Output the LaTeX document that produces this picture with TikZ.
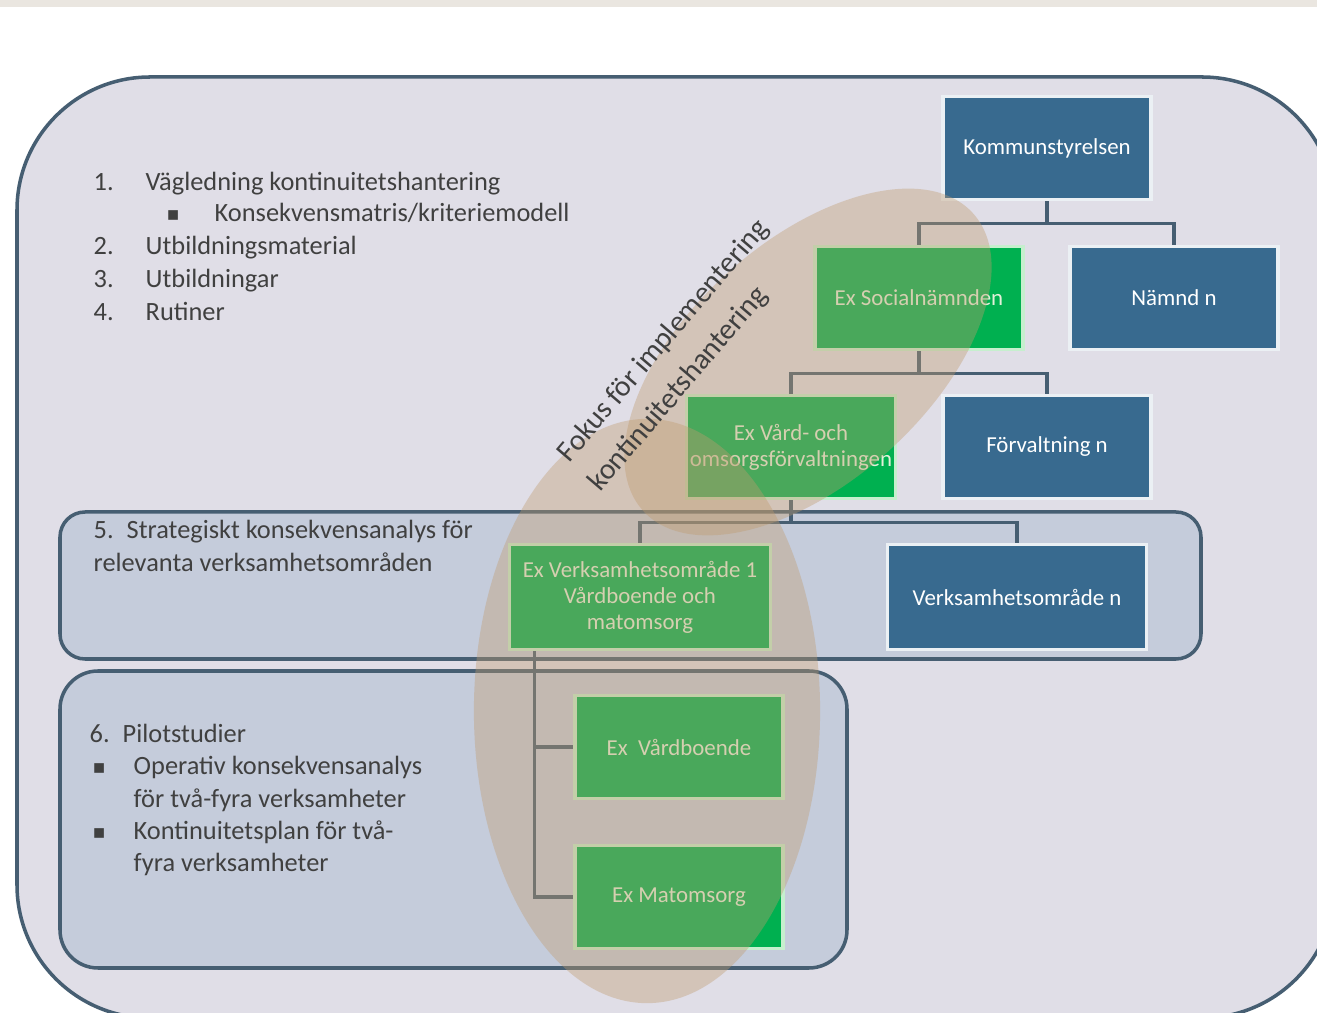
\documentclass[tikz,border=0pt]{standalone}
\usepackage{fontspec}
\setmainfont{Carlito}
\newfontfamily\symfont{DejaVu Sans}

\definecolor{bakgrund}{RGB}{224,222,231}
\definecolor{bandfarg}{RGB}{197,204,219}
\definecolor{kant}{RGB}{70,94,114}
\definecolor{blagrund}{RGB}{56,106,143}
\definecolor{gronbg}{RGB}{0,176,80}
\definecolor{gronkant}{RGB}{198,239,206}
\definecolor{grontext}{RGB}{226,240,217}
\definecolor{fokus}{RGB}{192,155,110}
\definecolor{remsa}{RGB}{234,230,224}
\definecolor{grafit}{RGB}{64,64,64}

\begin{document}
\begin{tikzpicture}[x=0.01cm, y=-0.01cm,
    ruta/.style={rectangle, minimum width=2.08cm, minimum height=1.03cm, inner sep=1pt, align=center, line width=1pt, font=\fontsize{6.5}{7.4}\selectfont},
    bla/.style={ruta, fill=blagrund, draw=white!90!blagrund, text=white},
    gron/.style={ruta, fill=gronbg, draw=gronkant, text=grontext},
    lista/.style={anchor=base west, inner sep=0pt, text=grafit, font=\fontsize{7.5}{9}\selectfont},
    punkt/.style={anchor=base west, inner sep=0pt, text=grafit, font=\symfont\fontsize{5.5}{6}\selectfont},
    fokusrad/.style={anchor=base west, rotate=49.5, inner sep=0pt, text=grafit, font=\fontsize{8.4}{10}\selectfont},
    linje/.style={draw=kant, line width=0.9pt},
    fokusyta/.style={fill=fokus, fill opacity=0.38}]

    \useasboundingbox (0,0) rectangle (1317,1013);
    \fill[white] (0,0) rectangle (1317,1013);
    \fill[remsa] (0,0) rectangle (1317,7);

    % Ram och band
    \begin{scope}
        \clip (0,0) rectangle (1317,1013);
        \draw[kant, fill=bakgrund, line width=1pt, rounded corners=1.33cm] (17,77) rectangle (1335,1018);
    \end{scope}
    \draw[kant, fill=bandfarg, line width=1pt, rounded corners=0.25cm] (60,512) rectangle (1201,659);
    \draw[kant, fill=bandfarg, line width=1pt, rounded corners=0.38cm] (60,671) rectangle (847,968);

    % Organisationen
    \node[bla] (ks) at (1047,148) {Kommunstyrelsen};
    \node[gron] (social) at (919,298) {Ex Socialnämnden};
    \node[bla] (namnd) at (1174,298) {Nämnd n};
    \node[gron] (vard) at (791,447) {Ex Vård- och\\omsorgsförvaltningen};
    \node[bla] (forv) at (1047,447) {Förvaltning n};
    \node[gron, minimum width=2.61cm, minimum height=1.05cm] (vo1) at (640,597) {Ex Verksamhetsområde 1\\Vårdboende och\\matomsorg};
    \node[bla, minimum width=2.59cm, minimum height=1.05cm] (von) at (1017,597) {Verksamhetsområde n};
    \node[gron] (vardb) at (679,747) {Ex~~Vårdboende};
    \node[gron] (matoms) at (679,897) {Ex Matomsorg};

    % Linjer
    \draw[linje] (ks.south) -- ++(0,22) -| (social.north);
    \draw[linje] (ks.south) -- ++(0,22) -| (namnd.north);
    \draw[linje] (social.south) -- ++(0,22) -| (vard.north);
    \draw[linje] (social.south) -- ++(0,22) -| (forv.north);
    \draw[linje] (vard.south) -- ++(0,22) -| (vo1.north);
    \draw[linje] (vard.south) -- ++(0,22) -| (von.north);
    \draw[linje] ([xshift=0.27cm]vo1.south west) |- (vardb.west);
    \draw[linje] ([xshift=0.27cm]vo1.south west) |- (matoms.west);

    % Fokus
    \fill[fokusyta, rotate around={42:(808,362)}] (808,362) ellipse [x radius=2.22cm, y radius=1.2cm];
    \fill[fokusyta] (647,711) ellipse [x radius=1.73cm, y radius=2.92cm];
    \node[fokusrad] (fokus1) at (569,464) {Fokus för implementering};
    \node[fokusrad] (fokus2) at (600,493) {kontinuitetshantering};

    % Punkter 1-4
    \node[lista] (n1) at (93,191) {1.};
    \node[lista] (t1) at (145,191) {Vägledning kontinuitetshantering};
    \node[punkt] (b1) at (166,221) {▪};
    \node[lista] (t1a) at (214,222) {Konsekvensmatris/kriteriemodell};
    \node[lista] (n2) at (93,255) {2.};
    \node[lista] (t2) at (145,255) {Utbildningsmaterial};
    \node[lista] (n3) at (93,288) {3.};
    \node[lista] (t3) at (145,288) {Utbildningar};
    \node[lista] (n4) at (93,321) {4.};
    \node[lista] (t4) at (145,321) {Rutiner};

    % Punkt 5
    \node[lista] (n5) at (93,539) {5.};
    \node[lista] (t5) at (126,539) {Strategiskt konsekvensanalys för};
    \node[lista] (t5b) at (93,572) {relevanta verksamhetsområden};

    % Punkt 6
    \node[lista] (n6) at (89,743) {6.};
    \node[lista] (t6) at (122,743) {Pilotstudier};
    \node[punkt] (b6a) at (92,774) {▪};
    \node[lista] (t6a) at (133,775) {Operativ konsekvensanalys};
    \node[lista] (t6b) at (133,808) {för två-fyra verksamheter};
    \node[punkt] (b6b) at (92,839) {▪};
    \node[lista] (t6c) at (133,840) {Kontinuitetsplan för två-};
    \node[lista] (t6d) at (133,872) {fyra verksamheter};
\end{tikzpicture}
\end{document}
